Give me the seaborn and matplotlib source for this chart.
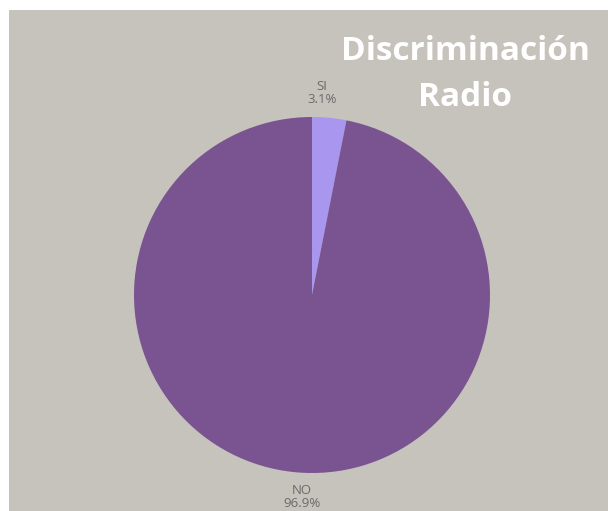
import numpy as np
import matplotlib
matplotlib.use("Agg")
import matplotlib.pyplot as plt
from matplotlib.patches import Rectangle
import seaborn as sns

labels = ["SI", "NO"]
values = [3.1, 96.9]
colors = ["#a996ee", "#7a5391"]
title_lines = ["Discriminación", "Radio"]

sns.set_theme(style="white")
plt.rcParams["font.family"] = ["Open Sans", "DejaVu Sans"]

W, H = 608, 511
fig = plt.figure(figsize=(W / 100, H / 100), dpi=100)
fig.patch.set_facecolor("white")
# gray panel, white strip on top and left
fig.add_artist(Rectangle((9 / W, 0), 1 - 9 / W, 1 - 10 / H, transform=fig.transFigure,
                         facecolor="#c6c2bc", edgecolor="none", zorder=0))

cx, cy, r = 312, 295, 178
ax = fig.add_axes([(cx - r) / W, (H - cy - r) / H, 2 * r / W, 2 * r / H])
ax.set_facecolor("none")

wedges, _ = ax.pie(values, colors=sns.color_palette(colors), startangle=90,
                   counterclock=False, wedgeprops=dict(linewidth=0))
ax.set_xlim(-1, 1)
ax.set_ylim(-1, 1)
ax.set_aspect("equal")
ax.axis("off")

for w, lab, v in zip(wedges, labels, values):
    mid = np.deg2rad((w.theta1 + w.theta2) / 2)
    x, y = 1.14 * np.cos(mid), 1.14 * np.sin(mid)
    ax.text(x * 0.5, y, f"{lab}\n{v:.1f}%", ha="center", va="center", fontsize=9.5,
            color="#6b6b6b", linespacing=1.05, clip_on=False)

fig.text(465 / W, 1 - 51 / H, title_lines[0], ha="center", va="center",
         fontsize=24, fontweight="bold", color="white")
fig.text(465 / W, 1 - 97 / H, title_lines[1], ha="center", va="center",
         fontsize=24, fontweight="bold", color="white")

fig.savefig("out.png", dpi=100)
